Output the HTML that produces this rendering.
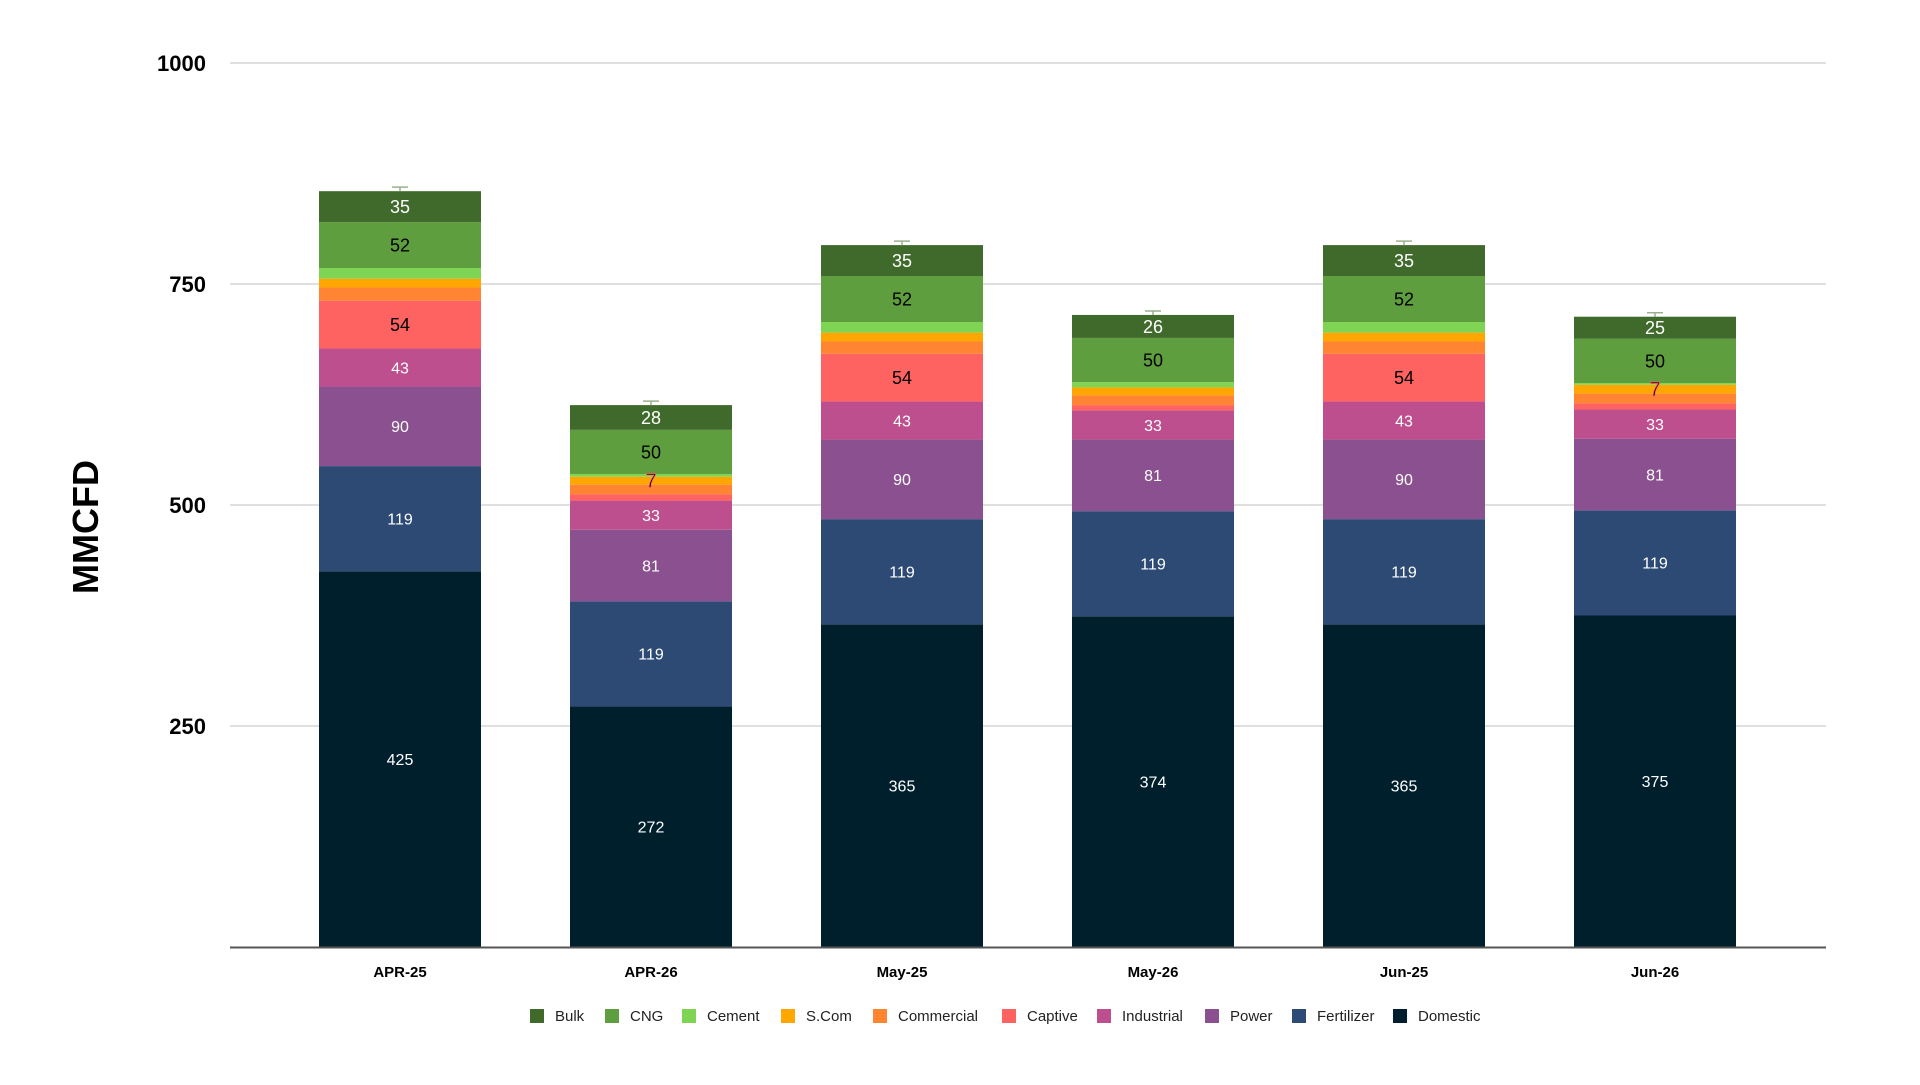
<!DOCTYPE html>
<html><head><meta charset="utf-8"><style>
body{margin:0;background:#fff;width:1920px;height:1080px;overflow:hidden;font-family:"Liberation Sans",sans-serif}
</style></head><body>
<svg id="chart" width="1920" height="1080" xmlns="http://www.w3.org/2000/svg"></svg>
<script>
const categories=["APR-25","APR-26","May-25","May-26","Jun-25","Jun-26"];
const seriesNames=["Domestic","Fertilizer","Power","Industrial","Captive","Commercial","S.Com","Cement","CNG","Bulk"];
const domestic=[425,272,365,374,365,375];
const fertilizer=[119,119,119,119,119,119];
const power=[90,81,90,81,90,81];
const industrial=[43,33,43,33,43,33];
const captive=[54,7,54,6,54,7];
const commercial=[15,11,14,11,14,11];
const scom=[10,9,10,9,10,10];
const cement=[12,3,12,6,12,2];
const cng=[52,50,52,50,52,50];
const bulk=[35,28,35,26,35,25];
const yTicks=[250,500,750,1000];
const seriesData=[domestic,fertilizer,power,industrial,captive,commercial,scom,cement,cng,bulk];
const colors=["#001f2d","#2d4a75","#8b508f","#bd4f8f","#ff6361","#ff8533","#ffa600","#7fd454","#5e9e3e","#3f6a2b"];
const labelColors=["#fff","#fff","#fff","#fff","#000","#000","#000","#000","#000","#fff"];
const NS="http://www.w3.org/2000/svg";
const svg=document.getElementById('chart');
const base=947, pxPer=221/250, x0=400, step=251, bw=162;
const y=v=>base-v*pxPer;
const xc=i=>x0+i*step;
function el(t,a,p){const e=document.createElementNS(NS,t);for(const k in a)e.setAttribute(k,a[k]);(p||svg).appendChild(e);return e;}
yTicks.forEach(t=>{
 const g=el('line',{x1:230,x2:1826,y1:y(t),y2:y(t),stroke:'#d6d6d6','stroke-width':1.5});
 
 
 const tx=el('text',{x:206,y:y(t)+8,'text-anchor':'end','font-size':22,'font-weight':'bold',fill:'#000'});
 tx.textContent=t;
 
 
});
const yt=el('text',{x:98,y:527,'text-anchor':'middle','font-size':36,'font-weight':'bold',transform:'rotate(-90 98 527)',fill:'#000'});
yt.textContent='MMCFD';


const barLayer=el('g',{});


const labelLayer=el('g',{});


categories.forEach((c,i)=>{
 let acc=0;const L=xc(i)-bw/2;
 seriesData.forEach((s,k)=>{
  const v=s[i];const top=y(acc+v),bot=y(acc);
  const r=el('rect',{x:L,y:top,width:bw,height:bot-top,fill:colors[k]},barLayer);
  
  
  if(v>=20){
   const fs=(k===4||k>=8)?18:16;
   const t=el('text',{x:xc(i),y:(top+bot)/2+fs*0.36,'text-anchor':'middle','font-size':fs,fill:labelColors[k]},labelLayer);
   t.textContent=v;
   
   
  } else if(k===4 && v>=7){
   const my=y(acc+v+seriesData[5][i]+seriesData[6][i]/2);
   const t=el('text',{x:xc(i),y:my+7,'text-anchor':'middle','font-size':20,fill:'#000',stroke:'#ff6361','stroke-width':0.8},labelLayer);
   t.textContent=v;
   
   
  }
  acc+=v;
 });
 const tp=y(acc);
 const m=el('path',{d:`M${xc(i)-8} ${tp-4}H${xc(i)+8}M${xc(i)} ${tp-4}V${tp}`,stroke:'#9bb08f','stroke-width':1.5,fill:'none'});
 
 
 const xl=el('text',{x:xc(i),y:977,'text-anchor':'middle','font-size':15,'font-weight':'bold',fill:'#000'});
 xl.textContent=c;
 
 
});
const ax=el('line',{x1:230,x2:1826,y1:base+0.5,y2:base+0.5,stroke:'#555','stroke-width':2});


const legendOrder=[9,8,7,6,5,4,3,2,1,0];
const legendX=[530,605,682,781,873,1002,1097,1205,1292,1393];
legendOrder.forEach((k,j)=>{
 const g=el('g',{});
 
 
 el('rect',{x:legendX[j],y:1009,width:14,height:14,fill:colors[k]},g);
 const t=el('text',{x:legendX[j]+25,y:1021,'font-size':15,fill:'#222'},g);
 t.textContent=seriesNames[k];
});
</script>
</body></html>
